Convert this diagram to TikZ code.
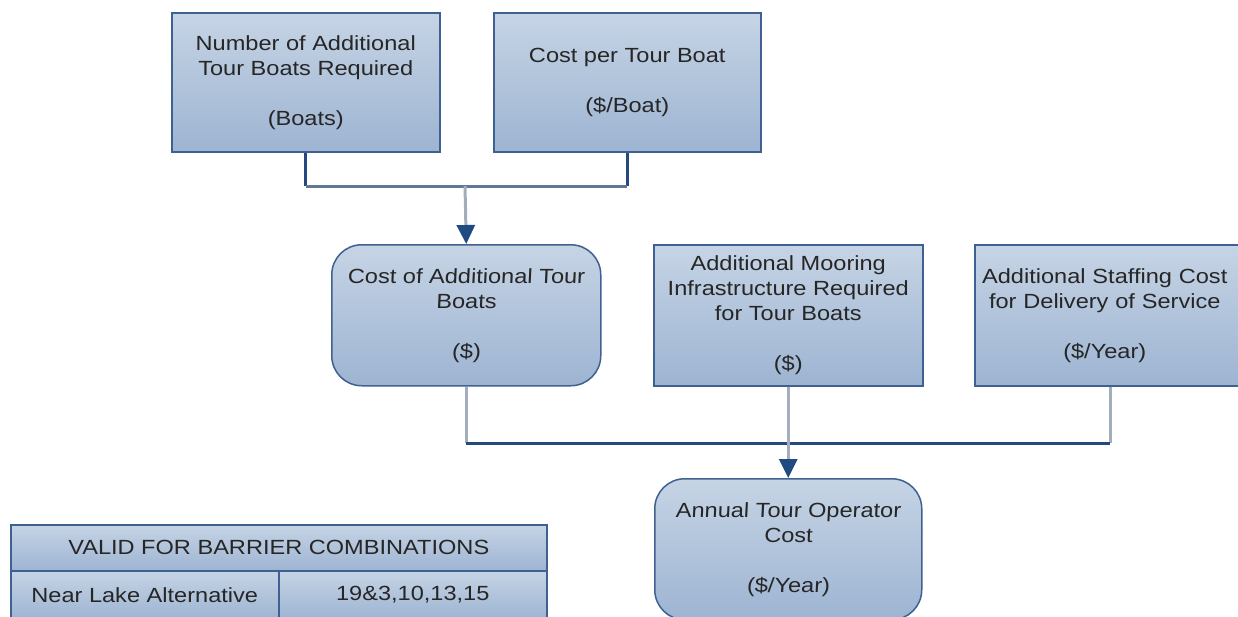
\documentclass[tikz,border=0pt]{standalone}
\usepackage{fontspec}
\setmainfont{Liberation Sans}[FakeStretch=1.15]
\newfontfamily\slfont{Liberation Sans}[FakeStretch=1.15,FakeSlant=0.05]
\usetikzlibrary{arrows.meta}
\definecolor{boxtop}{HTML}{C6D4E5}
\definecolor{boxbot}{HTML}{9DB4D2}
\definecolor{boxline}{HTML}{3F6192}
\definecolor{darkln}{HTML}{23497E}
\definecolor{slateln}{HTML}{5D7898}
\definecolor{grayln}{HTML}{A3AEBC}
\definecolor{tipcol}{HTML}{1F4A82}
\tikzset{
  boxbase/.style={draw=boxline, line width=1.5pt, top color=boxtop, bottom color=boxbot,
    anchor=north west, inner sep=0pt, align=center,
    font=\fontsize{20.5}{25}\selectfont, text=black!85},
  sqbox/.style={boxbase},
  rdbox/.style={boxbase, rounded corners=30pt, font=\slfont\fontsize{20.5}{25}\selectfont},
  cell/.style={draw=boxline, line width=1.5pt, top color=boxtop, bottom color=boxbot,
    anchor=north west, inner sep=0pt, font=\fontsize{20.5}{24}\selectfont, text=black!85},
  stemdark/.style={draw=darkln, line width=3pt},
  stemgray/.style={draw=grayln, line width=3pt},
  hdark/.style={draw=darkln, line width=3pt},
  hslate/.style={draw=slateln, line width=3pt},
  arr/.style={draw=grayln, line width=3pt, -{Triangle[width=18pt,length=19pt,color=tipcol]}},
}
\begin{document}
\begin{tikzpicture}[x=1pt,y=-1pt]
\clip (0,0) rectangle (1238,616);
\fill[white] (0,0) rectangle (1238,616);
% boxes
\node[sqbox, minimum width=268pt, minimum height=139pt] (A) at (171,12)
  {Number of Additional\\Tour Boats Required\\[25pt](Boats)};
\node[sqbox, minimum width=267pt, minimum height=139pt] (B) at (493,12)
  {Cost per Tour Boat\\[25pt](\$/Boat)};
\node[rdbox, minimum width=269pt, minimum height=141pt] (C) at (331,244)
  {Cost of Additional Tour\\Boats\\[25pt](\$)};
\node[sqbox, minimum width=269pt, minimum height=141pt] (D) at (653,244)
  {Additional Mooring\\Infrastructure Required\\for Tour Boats\\[25pt](\$)};
\node[sqbox, minimum width=268pt, minimum height=141pt, text width=262pt] (E) at (974,244)
  {\hspace*{-8pt}Additional Staffing Cost\\\hspace*{-8pt}for Delivery of Service\\[25pt]\hspace*{-8pt}(\$/Year)};
\node[rdbox, minimum width=267pt, minimum height=141pt] (F) at (654,478)
  {Annual Tour Operator\\Cost\\[25pt](\$/Year)};
% table
\node[cell, minimum width=536pt, minimum height=46pt] (T1) at (10,524)
  {VALID FOR BARRIER COMBINATIONS};
\node[cell, minimum width=268pt, minimum height=48pt] (T2) at (10,570)
  {Near Lake Alternative};
\node[cell, minimum width=268pt, minimum height=48pt] (T3) at (278,570)
  {19\&3,10,13,15};
% connectors
\coordinate (j1) at (465,186);
\coordinate (j2) at (788,443);
\coordinate (jE) at (1110,443);
\draw[stemdark] (A.south) -- (A.south |- j1);
\draw[stemdark] (B.south) -- (B.south |- j1);
\draw[hslate] (A.south |- j1) -- (B.south |- j1);
\draw[arr] (j1) -- (C.north);
\draw[stemgray] (C.south) -- (C.south |- j2);
\draw[stemgray] (E.south -| jE) -- (jE);
\draw[hdark] (C.south |- j2) -- (jE);
\draw[arr] (D.south) -- (F.north);
\end{tikzpicture}
\end{document}
